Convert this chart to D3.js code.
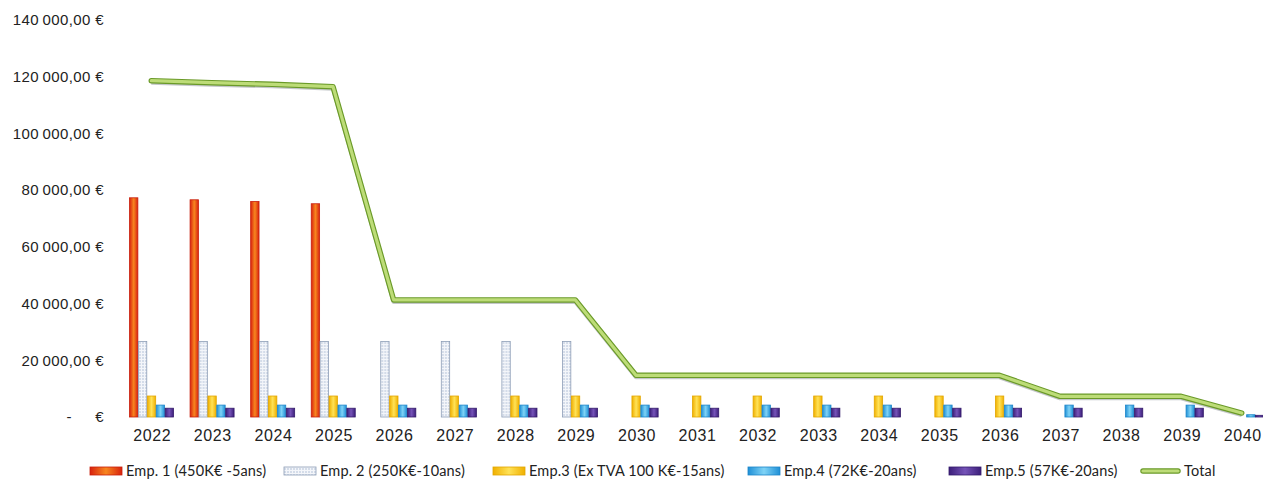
<!DOCTYPE html>
<html>
<head>
<meta charset="utf-8">
<script src="https://cdn.jsdelivr.net/npm/d3@7"></script>
<style>
    html, body { margin: 0; padding: 0; background: #fff; overflow: hidden; }
    svg { display: block; font-family: Lato, "Open Sans", sans-serif; }
    .axis text { fill: #222; }
    .legend text { fill: #222; font-size: 14.5px; letter-spacing: 0.15px; }
</style>
</head>
<body>
<svg id="chart" width="1263" height="483"></svg>
<script>
// Data
const years = ['2022', '2023', '2024', '2025', '2026', '2027', '2028', '2029', '2030', '2031',
               '2032', '2033', '2034', '2035', '2036', '2037', '2038', '2039', '2040'];

const emp1 = [77300, 76600, 76000, 75200, 0, 0, 0, 0, 0, 0, 0, 0, 0, 0, 0, 0, 0, 0, 0];
const emp2 = [26600, 26600, 26600, 26600, 26600, 26600, 26600, 26600, 0, 0, 0, 0, 0, 0, 0, 0, 0, 0, 0];
const emp3 = [7400, 7400, 7400, 7400, 7400, 7400, 7400, 7400, 7400, 7400, 7400, 7400, 7400, 7400, 7400, 0, 0, 0, 0];
const emp4 = [4200, 4200, 4200, 4200, 4200, 4200, 4200, 4200, 4200, 4200, 4200, 4200, 4200, 4200, 4200, 4200, 4200, 4200, 800];
const emp5 = [3100, 3100, 3100, 3100, 3100, 3100, 3100, 3100, 3100, 3100, 3100, 3100, 3100, 3100, 3100, 3100, 3100, 3100, 600];

const seriesNames = ['Emp. 1 (450K€ -5ans)', 'Emp. 2 (250K€-10ans)', 'Emp.3 (Ex TVA 100 K€-15ans)',
                     'Emp.4 (72K€-20ans)', 'Emp.5 (57K€-20ans)'];
const totalName = 'Total';
const yTicks = [0, 20000, 40000, 60000, 80000, 100000, 120000, 140000];

const seriesValues = [emp1, emp2, emp3, emp4, emp5];
const totals = years.map((_, i) => d3.sum(seriesValues, s => s[i]));

const svg = d3.select('#chart');
const defs = svg.append('defs');

// Gradients to mimic the shaded Excel bars
function hGradient(id, edge, mid) {
    const g = defs.append('linearGradient').attr('id', id)
        .attr('x1', '0%').attr('x2', '100%').attr('y1', '0%').attr('y2', '0%');
    g.append('stop').attr('offset', '0%').attr('stop-color', edge);
    g.append('stop').attr('offset', '50%').attr('stop-color', mid);
    g.append('stop').attr('offset', '100%').attr('stop-color', edge);
}
hGradient('g-emp1', '#d8220e', '#f7861f');
hGradient('g-emp3', '#f0b000', '#ffe257');
hGradient('g-emp4', '#1f8fd6', '#7fd3f6');
hGradient('g-emp5', '#3c1f7a', '#7553b8');

// dotted fill for Emp. 2
const pat = defs.append('pattern').attr('id', 'p-emp2')
    .attr('width', 3).attr('height', 3).attr('patternUnits', 'userSpaceOnUse');
pat.append('rect').attr('width', 3).attr('height', 3).attr('fill', '#f4f6fa');
pat.append('circle').attr('cx', 1).attr('cy', 1).attr('r', 0.7).attr('fill', '#9db0cc');

const fills = ['url(#g-emp1)', 'url(#p-emp2)', 'url(#g-emp3)', 'url(#g-emp4)', 'url(#g-emp5)'];
const strokes = ['#c81e0c', '#8d9db6', '#e2a600', '#1d86c9', '#331a6a'];

// Scales
const y = d3.scaleLinear().domain([0, 140000]).range([417, 20]);
const x0 = d3.scaleBand().domain(years).range([121, 1272]).padding(0);
const x1 = d3.scaleBand().domain(d3.range(seriesNames.length))
    .range([8.5, 52.5]).paddingInner(0.06);

// Y axis
const locale = d3.formatLocale({ decimal: ',', thousands: '\u2009', grouping: [3], currency: ['', ''] });
const fmt = locale.format(',.2f');

const yAxis = svg.append('g')
    .attr('class', 'axis')
    .attr('transform', 'translate(104,0)')
    .call(d3.axisLeft(y).tickValues(yTicks).tickSize(0).tickPadding(0)
        .tickFormat(d => d === 0 ? '-\u2003\u2002€' : fmt(d) + ' €'));
yAxis.select('.domain').remove();
yAxis.selectAll('text').attr('font-size', 15).attr('letter-spacing', 0.4);

// X axis
const xAxis = svg.append('g')
    .attr('class', 'axis')
    .attr('transform', 'translate(0,417)')
    .call(d3.axisBottom(x0).tickSize(0).tickPadding(13));
xAxis.select('.domain').remove();
xAxis.selectAll('text').attr('font-size', 16).attr('letter-spacing', 0.6).attr('dx', 1);

// Bars
const groups = svg.append('g').attr('class', 'bars')
    .selectAll('g')
    .data(years)
    .join('g')
    .attr('transform', d => `translate(${x0(d)},0)`);

groups.selectAll('rect')
    .data((d, i) => seriesValues.map((s, k) => ({ k, v: s[i] })).filter(e => e.v > 0))
    .join('rect')
    .attr('x', d => x1(d.k))
    .attr('width', x1.bandwidth())
    .attr('y', d => y(d.v))
    .attr('height', d => y(0) - y(d.v))
    .attr('fill', d => fills[d.k])
    .attr('stroke', d => strokes[d.k])
    .attr('stroke-width', 0.8);

// Total line: shadow, dark outline, light core
const line = d3.line()
    .x((d, i) => x0(years[i]) + x0.bandwidth() / 2)
    .y(d => y(d));

const lineG = svg.append('g').attr('class', 'total');
lineG.append('path').datum(totals)
    .attr('d', line)
    .attr('transform', 'translate(0,2)')
    .attr('fill', 'none').attr('stroke', '#8a8f96').attr('stroke-opacity', 0.5)
    .attr('stroke-width', 4).attr('stroke-linejoin', 'round');
lineG.append('path').datum(totals)
    .attr('d', line)
    .attr('fill', 'none').attr('stroke', '#6a9a28')
    .attr('stroke-width', 5.5).attr('stroke-linejoin', 'round').attr('stroke-linecap', 'round');
lineG.append('path').datum(totals)
    .attr('d', line)
    .attr('fill', 'none').attr('stroke', '#bddc78')
    .attr('stroke-width', 3.2).attr('stroke-linejoin', 'round').attr('stroke-linecap', 'round');

// Legend, item positions taken from the reference layout
const legendX = [90, 284, 493, 748, 949, 1140];
const legend = svg.append('g').attr('class', 'legend').attr('transform', 'translate(0,471)');
const legendItems = seriesNames.map((name, k) => ({ name, k })).concat([{ name: totalName, k: -1 }]);
legendItems.forEach((item, i) => {
    const g = legend.append('g').attr('transform', `translate(${legendX[i]},0)`);
    const sw = 32;
    if (item.k >= 0) {
        g.append('rect')
            .attr('x', 0).attr('y', -4).attr('width', sw).attr('height', 8)
            .attr('fill', fills[item.k]).attr('stroke', strokes[item.k]).attr('stroke-width', 0.8);
    } else {
        g.append('line').attr('x1', 3).attr('x2', sw + 6).attr('y1', 0).attr('y2', 0)
            .attr('stroke', '#6a9a28').attr('stroke-width', 5.5).attr('stroke-linecap', 'round');
        g.append('line').attr('x1', 3).attr('x2', sw + 6).attr('y1', 0).attr('y2', 0)
            .attr('stroke', '#bddc78').attr('stroke-width', 3.2).attr('stroke-linecap', 'round');
    }
    g.append('text')
        .attr('x', item.k >= 0 ? sw + 4 : sw + 12).attr('dy', '0.35em')
        .text(item.name);
});
</script>
</body>
</html>
